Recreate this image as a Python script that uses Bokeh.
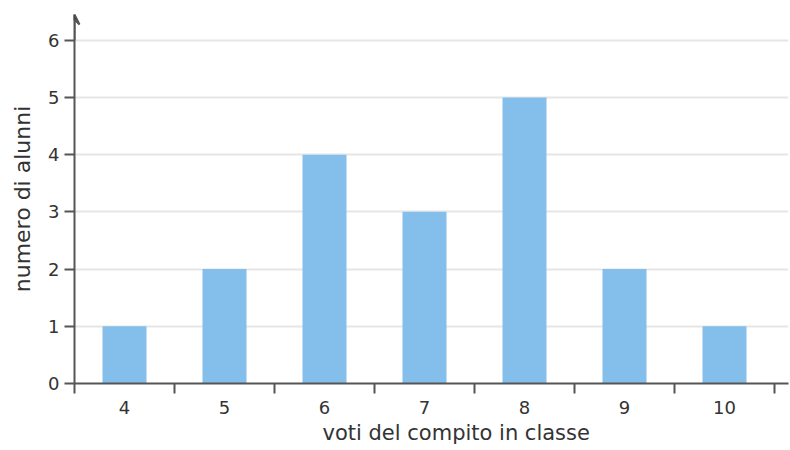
from bokeh.plotting import figure
from bokeh.models import FixedTicker, Range1d, Arrow, VeeHead, ColumnDataSource, Title
from bokeh.embed import file_html
from bokeh.resources import INLINE

# data
voti = [4, 5, 6, 7, 8, 9, 10]
alunni = [1, 2, 4, 3, 5, 2, 1]
y_ticks = [0, 1, 2, 3, 4, 5, 6]
x_label = "voti del compito in classe"
y_label = "numero di alunni"

FONT = "DejaVu Sans"
AX = "#555555"
TXT = "#333333"

p = figure(width=790, height=450, output_backend="svg", toolbar_location=None,
           x_range=Range1d(3.5, 10.64), y_range=Range1d(0, 6.45),
           min_border_left=74, min_border_right=2, min_border_top=14, min_border_bottom=67)
p.outline_line_color = None

src = ColumnDataSource(dict(x=voti, top=alunni))
p.vbar(x="x", top="top", width=0.44, bottom=0, source=src,
       fill_color="#84BEEA", line_color=None)

# x axis: labels at centers, ticks between categories
p.xaxis.ticker = FixedTicker(ticks=voti, minor_ticks=[v - 0.5 for v in voti] + [voti[-1] + 0.5])
p.xaxis.major_tick_out = 0
p.xaxis.major_tick_in = 0
p.xaxis.minor_tick_out = 10
p.xaxis.minor_tick_in = 0
p.xaxis.minor_tick_line_color = AX
p.xaxis.minor_tick_line_width = 2
p.xaxis.axis_line_color = AX
p.xaxis.axis_line_width = 2
p.xaxis.major_label_standoff = 7

# y axis
p.yaxis.ticker = FixedTicker(ticks=y_ticks)
p.yaxis.minor_tick_line_color = None
p.yaxis.major_tick_out = 10
p.yaxis.major_tick_in = 0
p.yaxis.major_tick_line_color = AX
p.yaxis.major_tick_line_width = 2
p.yaxis.axis_line_color = AX
p.yaxis.axis_line_width = 2
p.yaxis.major_label_standoff = 5
p.yaxis.axis_label = y_label
p.yaxis.axis_label_standoff = 10

for ax in (p.xaxis, p.yaxis):
    ax.major_label_text_font = FONT
    ax.major_label_text_font_size = "18px"
    ax.major_label_text_color = TXT
    ax.axis_label_text_font = FONT
    ax.axis_label_text_font_style = "normal"
    ax.axis_label_text_color = TXT
p.yaxis.axis_label_text_font_size = "22px"

# x axis title, placed off-centre like the reference
p.add_layout(Title(text=x_label, align="left", offset=248, standoff=4,
                   text_font=FONT, text_font_size="21px", text_font_style="normal",
                   text_color=TXT), "below")

p.xgrid.grid_line_color = None
p.ygrid.ticker = FixedTicker(ticks=y_ticks[1:])
p.ygrid.grid_line_color = "#e6e6e6"
p.ygrid.grid_line_width = 2

# arrow at top of y axis
p.add_layout(Arrow(x_start=3.5, y_start=6.0, x_end=3.5, y_end=6.45,
                   line_color=AX, line_width=2,
                   end=VeeHead(size=10, line_color=AX, line_width=2)))

open("out.html", "w").write(file_html(p, INLINE))
